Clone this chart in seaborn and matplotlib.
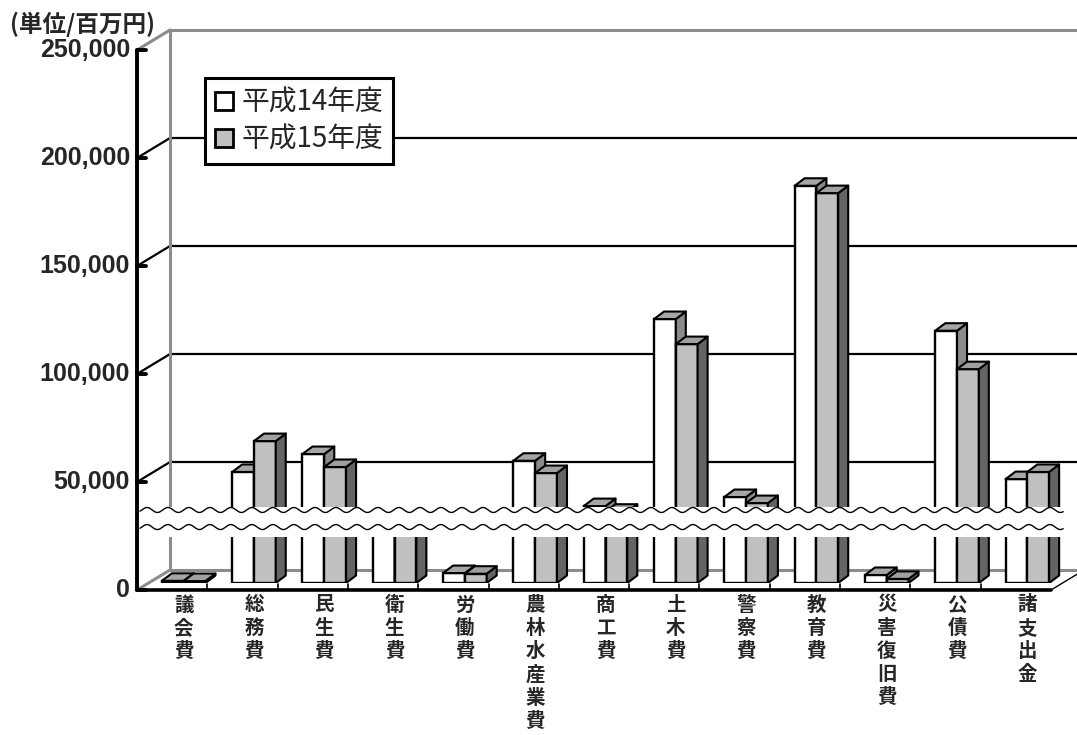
import numpy as np
import pandas as pd
import matplotlib
matplotlib.use("Agg")
import matplotlib.pyplot as plt
import seaborn as sns
from matplotlib.patches import Polygon, Rectangle, Patch

categories = ["議会費", "総務費", "民生費", "衛生費", "労働費", "農林水産業費", "商工費",
              "土木費", "警察費", "教育費", "災害復旧費", "公債費", "諸支出金"]
h14 = [1000, 51400, 59700, 30500, 4600, 56600, 35600, 122200, 39800, 183900, 3700, 116800, 48100]
h15 = [900, 65700, 53700, 29500, 4300, 50900, 33000, 110600, 37000, 180500, 1900, 99000, 51400]
series = ["平成14年度", "平成15年度"]
yticks = [0, 50000, 100000, 150000, 200000, 250000]

df = pd.DataFrame({
    "cat": categories * 2,
    "year": [series[0]] * len(categories) + [series[1]] * len(categories),
    "value": h14 + h15,
})

sns.set_theme(style="white")
plt.rcParams["font.family"] = ["Noto Sans CJK JP", "DejaVu Sans"]

W, H = 1077, 735
fig = plt.figure(figsize=(W / 100, H / 100), dpi=100)
ax = fig.add_axes([148.5 / W, (H - 583) / H, 914 / W, 540 / H])
ax.set_xlim(-0.5, 12.5)
ax.set_ylim(0, 250000)

front_face = {series[0]: "white", series[1]: "#c0c0c0"}
top_face = {series[0]: "#a6a6a6", series[1]: "#a0a0a0"}
side_face = {series[0]: "#8a8a8a", series[1]: "#646464"}

sns.barplot(data=df, x="cat", y="value", hue="year", palette=front_face,
            width=0.62, edgecolor="black", linewidth=1.7, saturation=1,
            legend=False, ax=ax, zorder=3)

# pixel -> data
PX = 13 / 914
PY = 250000 / 540
FX, FY = -11.5 * PX, -7 * PY      # front plane offset
BX, BY = 21.5 * PX, 13 * PY       # back wall offset
DX, DY = 10 * PX, 7.5 * PY        # depth of a bar

# 3D faces for the bars
n = len(categories)
for k, patch in enumerate(ax.patches[:2 * n]):
    s = series[k // n]
    z = 3 if k < n else 4
    patch.set_zorder(z)
    x0 = patch.get_x()
    x1 = x0 + patch.get_width()
    h = patch.get_height()
    top = Polygon([(x0, h), (x1, h), (x1 + DX, h + DY), (x0 + DX, h + DY)],
                  closed=True, facecolor=top_face[s], edgecolor="black", lw=1.5,
                  zorder=z + 0.1, joinstyle="round")
    side = Polygon([(x1, 0), (x1 + DX, DY), (x1 + DX, h + DY), (x1, h)],
                   closed=True, facecolor=side_face[s], edgecolor="black", lw=1.5,
                   zorder=z + 0.1, joinstyle="round")
    ax.add_patch(side)
    ax.add_patch(top)

# walls and floor
xl_f, xl_b = -0.5 + FX, -0.5 + BX
xr_f, xr_b = 12.5 + FX, 12.5 + BX
x_end = 13.2
floor = Polygon([(xl_f, FY), (xr_f, FY), (xr_b, BY), (xl_b, BY)], closed=True,
                facecolor="white", edgecolor="none", zorder=1)
ax.add_patch(floor)
gray = "#8c8c8c"
for v in yticks:
    c = gray if v in (0, 250000) else "black"
    lw = 2.2 if v in (0, 250000) else 1.6
    ax.plot([xl_b, x_end], [v + BY, v + BY], color=c, lw=lw, zorder=1.5, clip_on=False)
    ax.plot([xl_f, xl_b], [v + FY, v + BY], color=c, lw=lw, zorder=1.5, clip_on=False)
ax.plot([xl_b, xl_b], [BY, 250000 + BY], color=gray, lw=2.2, zorder=1.5, clip_on=False)
ax.plot([xl_f, xr_f], [FY, FY], color="black", lw=2.6, zorder=6, clip_on=False)
ax.plot([xr_f, x_end], [FY, FY + (x_end - xr_f) * (BY - FY) / (BX - FX)],
        color="black", lw=1.0, zorder=6, clip_on=False)
for i in range(1, n):
    xb = i - 0.5 + FX
    ax.plot([xb, xb], [FY, FY + 6 * PY], color="black", lw=1.2, zorder=6, clip_on=False)

# broken axis band
yb0, yb1 = 21300, 35200
ax.add_patch(Rectangle((xl_f + 2 * PX, yb0), 12.51 - xl_f - 2 * PX, yb1 - yb0,
                       facecolor="white", edgecolor="none", zorder=10, clip_on=False))
xw = np.linspace(xl_f + 3 * PX, 12.51, 1500)
for yc in (33800, 25900):
    ax.plot(xw, yc + 2.5 * PY * np.sin(2 * np.pi * xw / (21 * PX)),
            color="black", lw=1.0, zorder=11, clip_on=False)

# front value axis
ax.plot([xl_f, xl_f], [FY, 250000 + FY], color="black", lw=2.8, zorder=12, clip_on=False)
for v in yticks:
    ax.plot([xl_f, xl_f + 9 * PX], [v + FY, v + FY], color="black", lw=2.8,
            zorder=12, clip_on=False)
    ax.text(xl_f - 7 * PX, v + FY, f"{v:,}", ha="right", va="center",
            fontsize=18, fontweight="bold", family=["Liberation Sans", "DejaVu Sans"],
            clip_on=False)

ax.set_yticks([])
ax.set_ylabel("")
ax.set_xlabel("")
ax.set_xticks(range(n))
ax.set_xticklabels(["\n".join(c) for c in categories], fontsize=14,
                   fontweight="bold", va="top", linespacing=1.28)
ax.tick_params(axis="x", length=0, pad=9)
for sp in ax.spines.values():
    sp.set_visible(False)
ax.patch.set_alpha(0)

fig.text(10 / W, 1 - 24 / H, "(単位/百万円)", fontsize=17, fontweight="bold",
         va="center", ha="left")

handles = [Patch(facecolor=front_face[s], edgecolor="black", lw=2) for s in series]
leg = ax.legend(handles, series, loc="upper left",
                bbox_to_anchor=(205 / W, 1 - 78 / H), bbox_transform=fig.transFigure,
                borderaxespad=0, fontsize=20, frameon=True, fancybox=False,
                handlelength=0.65, handleheight=0.65, handletextpad=0.3,
                labelspacing=0.25, borderpad=0.35, framealpha=1)
leg.get_frame().set_edgecolor("black")
leg.get_frame().set_linewidth(2.2)
leg.set_zorder(20)

fig.savefig("out.png", dpi=100)
